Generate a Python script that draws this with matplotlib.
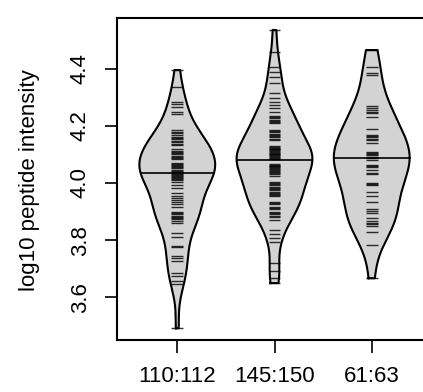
import numpy as np
import matplotlib
matplotlib.use("Agg")
import matplotlib.pyplot as plt

# group labels on the x axis
groups = ["110:112", "145:150", "61:63"]

# log10 peptide intensities (dense blocks hold several points)
bean_110 = [4.395, 4.337, 4.284, 4.275, 4.265, 4.249, 4.240, 4.185, 4.180, 4.174,
            4.168, 4.162, 4.157, 4.153, 4.147, 4.142, 4.137, 4.133, 4.118, 4.113,
            4.109, 4.105, 4.101, 4.096, 4.092, 4.087, 4.083, 4.070, 4.066, 4.062,
            4.059, 4.055, 4.051, 4.047, 4.043, 4.040, 4.036, 4.032, 4.028, 4.025,
            4.022, 4.018, 4.013, 4.009, 4.005, 3.993, 3.981, 3.966, 3.955, 3.946,
            3.941, 3.932, 3.927, 3.917, 3.900, 3.895, 3.892, 3.886, 3.882, 3.877,
            3.873, 3.866, 3.861, 3.824, 3.812, 3.780, 3.775, 3.746, 3.737, 3.728,
            3.686, 3.675, 3.658, 3.646, 3.492]
bean_145 = [4.535, 4.459, 4.407, 4.389, 4.372, 4.349, 4.314, 4.297, 4.285, 4.273,
            4.262, 4.250, 4.234, 4.230, 4.226, 4.222, 4.218, 4.213, 4.209, 4.185,
            4.181, 4.177, 4.172, 4.168, 4.164, 4.160, 4.155, 4.150, 4.129, 4.126,
            4.123, 4.120, 4.118, 4.115, 4.112, 4.109, 4.106, 4.103, 4.100, 4.097,
            4.094, 4.091, 4.088, 4.085, 4.083, 4.066, 4.064, 4.061, 4.058, 4.055,
            4.051, 4.048, 4.045, 4.042, 4.038, 4.034, 4.030, 4.026, 4.005, 4.001,
            3.997, 3.992, 3.987, 3.982, 3.978, 3.974, 3.970, 3.966, 3.962, 3.958,
            3.953, 3.935, 3.931, 3.927, 3.917, 3.912, 3.908, 3.899, 3.895, 3.890,
            3.886, 3.881, 3.871, 3.836, 3.821, 3.807, 3.792, 3.719, 3.692, 3.667,
            3.650]
bean_61 = [4.465, 4.407, 4.384, 4.378, 4.269, 4.262, 4.255, 4.249, 4.244, 4.232,
           4.189, 4.168, 4.164, 4.160, 4.155, 4.150, 4.139, 4.109, 4.105, 4.101,
           4.097, 4.092, 4.088, 4.080, 4.063, 4.059, 4.055, 4.045, 4.036, 4.031,
           4.001, 3.997, 3.993, 3.970, 3.953, 3.935, 3.908, 3.902, 3.895, 3.878,
           3.866, 3.861, 3.855, 3.850, 3.830, 3.783, 3.667]
# horizontal bean lines (one per group)
bean_lines = [4.034, 4.080, 4.086]

beans = [np.array(bean_110), np.array(bean_145), np.array(bean_61)]

bws = [0.06, 0.052, 0.075]
maxwidth = 0.78
linelen = 0.12

def kde(data, grid, bw):
	z = (grid[:, None] - data[None, :]) / bw
	return np.exp(-0.5 * z ** 2).sum(axis=1) / (len(data) * bw * np.sqrt(2 * np.pi))

plt.rcParams['font.family'] = ['Liberation Sans', 'DejaVu Sans']
fig = plt.figure(figsize=(4.23, 3.92), dpi=100)
ax = fig.add_axes([117 / 423, 52 / 392, 315 / 423, 322 / 392])

for i, d in enumerate(beans):
	x = i + 1
	g = np.linspace(d.min(), d.max(), 300)
	h = kde(d, g, bws[i])
	top = h.max()
	w = h / top * maxwidth / 2
	ax.fill_betweenx(g, x - w, x + w, facecolor="#d3d3d3", edgecolor="none", zorder=1)
	# data lines
	ax.hlines(d, x - linelen / 2, x + linelen / 2, colors="black", linewidth=1.0, alpha=0.8, zorder=2)
	# outline incl. flat caps
	ox = np.concatenate([x - w, (x + w)[::-1], [x - w[0]]])
	oy = np.concatenate([g, g[::-1], [g[0]]])
	ax.plot(ox, oy, color="black", linewidth=1.5, zorder=3)
	# bean line across the bean
	hw = kde(d, np.array([bean_lines[i]]), bws[i])[0] / top * maxwidth / 2
	ax.plot([x - hw, x + hw], [bean_lines[i]] * 2, color="black", linewidth=1.2, zorder=3)

ax.set_xlim(0.38, 3.62)
ax.set_ylim(3.451, 4.577)
ax.set_xticks([1, 2, 3])
ax.set_xticklabels(groups)
ax.set_yticks([3.6, 3.8, 4.0, 4.2, 4.4])
ax.set_yticklabels(["3.6", "3.8", "4.0", "4.2", "4.4"], rotation=90, va="center")
ax.tick_params(length=9, width=1.2, labelsize=16, pad=10)
for s in ax.spines.values():
	s.set_linewidth(1.5)

fig.text(29 / 423, 1 - 180 / 392, "log10 peptide intensity", rotation=90,
		 ha="center", va="center", fontsize=16)

fig.savefig("out.png", dpi=100)
